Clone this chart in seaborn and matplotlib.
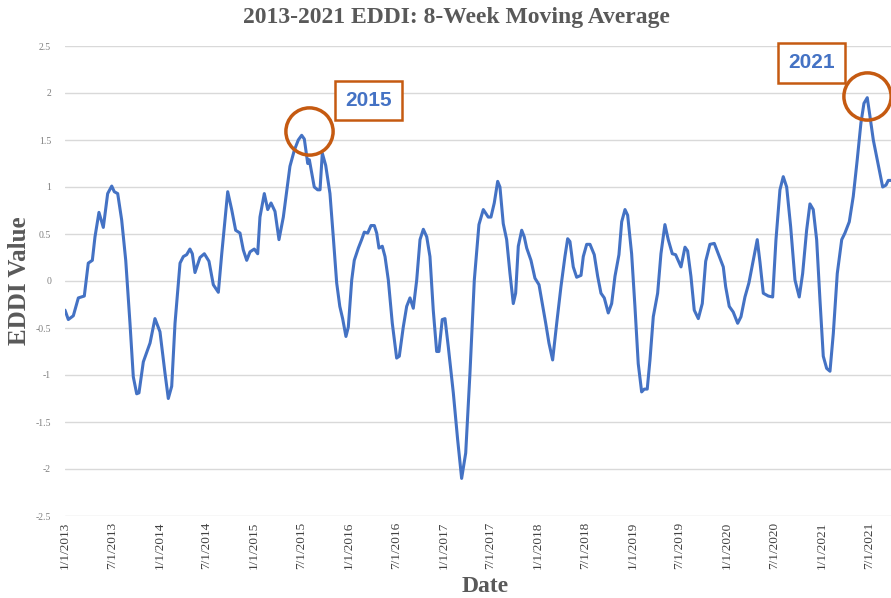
import pandas as pd
import numpy as np
import matplotlib
matplotlib.use("Agg")
import matplotlib.pyplot as plt
import matplotlib.transforms as mtransforms
import seaborn as sns

# Dados: tempo em anos desde 1/1/2013 e valor da média móvel de 8 semanas
anos_desde_2013 = [
    0.000, 0.035, 0.088, 0.141, 0.204, 0.246, 0.289, 0.317, 0.359, 0.405,
    0.451, 0.494, 0.521, 0.557, 0.599, 0.642, 0.687, 0.722, 0.758, 0.782,
    0.828, 0.899, 0.951, 1.004, 1.057, 1.092, 1.128, 1.163, 1.216, 1.251,
    1.286, 1.321, 1.346, 1.374, 1.427, 1.473, 1.522, 1.568, 1.621, 1.657,
    1.720, 1.762, 1.804, 1.850, 1.885, 1.921, 1.956, 2.001, 2.037, 2.061,
    2.107, 2.143, 2.178, 2.220, 2.262, 2.308, 2.378, 2.424, 2.466, 2.502,
    2.530, 2.566, 2.583, 2.608, 2.635, 2.671, 2.696, 2.720, 2.756, 2.801,
    2.836, 2.872, 2.905, 2.935, 2.970, 2.995, 3.031, 3.058, 3.101, 3.136,
    3.164, 3.200, 3.235, 3.270, 3.295, 3.319, 3.354, 3.383, 3.418, 3.460,
    3.506, 3.534, 3.576, 3.612, 3.647, 3.682, 3.718, 3.753, 3.788, 3.824,
    3.858, 3.893, 3.929, 3.953, 3.988, 4.017, 4.052, 4.105, 4.151, 4.193,
    4.236, 4.281, 4.327, 4.376, 4.422, 4.474, 4.503, 4.538, 4.574, 4.598,
    4.633, 4.669, 4.704, 4.739, 4.764, 4.792, 4.828, 4.855, 4.881, 4.926,
    4.968, 5.011, 5.046, 5.082, 5.116, 5.155, 5.198, 5.243, 5.285, 5.314,
    5.338, 5.373, 5.409, 5.455, 5.479, 5.515, 5.550, 5.595, 5.631, 5.666,
    5.701, 5.743, 5.779, 5.814, 5.856, 5.885, 5.920, 5.948, 5.990, 6.025,
    6.060, 6.096, 6.124, 6.155, 6.184, 6.219, 6.265, 6.300, 6.342, 6.377,
    6.420, 6.455, 6.512, 6.554, 6.582, 6.617, 6.652, 6.695, 6.737, 6.773,
    6.818, 6.864, 6.906, 6.959, 6.984, 7.022, 7.064, 7.111, 7.146, 7.188,
    7.230, 7.276, 7.318, 7.347, 7.382, 7.435, 7.481, 7.516, 7.558, 7.593,
    7.629, 7.671, 7.717, 7.762, 7.798, 7.840, 7.875, 7.910, 7.946, 7.981,
    8.016, 8.052, 8.087, 8.122, 8.164, 8.211, 8.245, 8.291, 8.333, 8.375,
    8.414, 8.446, 8.481, 8.510, 8.545, 8.581, 8.615, 8.644, 8.679, 8.703,
    8.732,
]
eddi_8sem = [
    -0.31, -0.41, -0.37, -0.18, -0.16, 0.19, 0.22, 0.47, 0.73, 0.57,
    0.93, 1.01, 0.95, 0.93, 0.65, 0.22, -0.45, -1.02, -1.20, -1.19,
    -0.86, -0.66, -0.40, -0.54, -0.98, -1.25, -1.12, -0.45, 0.19, 0.26,
    0.28, 0.34, 0.29, 0.09, 0.25, 0.29, 0.21, -0.04, -0.12, 0.29,
    0.95, 0.76, 0.54, 0.51, 0.33, 0.22, 0.31, 0.34, 0.29, 0.68,
    0.93, 0.76, 0.83, 0.74, 0.44, 0.68, 1.22, 1.39, 1.50, 1.55,
    1.51, 1.25, 1.29, 1.15, 1.00, 0.97, 0.97, 1.36, 1.23, 0.93,
    0.47, -0.02, -0.27, -0.40, -0.59, -0.49, 0.01, 0.22, 0.35, 0.44,
    0.52, 0.51, 0.59, 0.59, 0.51, 0.35, 0.37, 0.26, 0.01, -0.45,
    -0.82, -0.80, -0.49, -0.27, -0.18, -0.29, 0.01, 0.44, 0.55, 0.47,
    0.26, -0.31, -0.75, -0.75, -0.41, -0.40, -0.70, -1.19, -1.69, -2.10,
    -1.83, -0.98, 0.01, 0.60, 0.76, 0.68, 0.68, 0.83, 1.06, 1.00,
    0.61, 0.44, 0.08, -0.24, -0.13, 0.37, 0.54, 0.47, 0.35, 0.22,
    0.03, -0.04, -0.24, -0.45, -0.66, -0.84, -0.45, -0.06, 0.26, 0.45,
    0.42, 0.15, 0.04, 0.06, 0.26, 0.39, 0.39, 0.28, 0.05, -0.13,
    -0.18, -0.34, -0.24, 0.05, 0.28, 0.63, 0.76, 0.70, 0.29, -0.27,
    -0.88, -1.18, -1.15, -1.15, -0.84, -0.38, -0.13, 0.29, 0.60, 0.44,
    0.29, 0.28, 0.15, 0.36, 0.32, 0.05, -0.31, -0.40, -0.24, 0.21,
    0.39, 0.40, 0.29, 0.15, -0.06, -0.27, -0.33, -0.45, -0.38, -0.17,
    -0.02, 0.22, 0.44, 0.20, -0.13, -0.16, -0.17, 0.44, 0.97, 1.11,
    1.00, 0.58, 0.01, -0.17, 0.08, 0.54, 0.82, 0.76, 0.44, -0.20,
    -0.80, -0.93, -0.96, -0.56, 0.08, 0.44, 0.51, 0.63, 0.90, 1.29,
    1.68, 1.89, 1.95, 1.75, 1.50, 1.32, 1.15, 1.00, 1.02, 1.07,
    1.07,
]
assert len(anos_desde_2013) == len(eddi_8sem)

datas_ticks = ["2013-01-01", "2013-07-01", "2014-01-01", "2014-07-01", "2015-01-01",
               "2015-07-01", "2016-01-01", "2016-07-01", "2017-01-01", "2017-07-01",
               "2018-01-01", "2018-07-01", "2019-01-01", "2019-07-01", "2020-01-01",
               "2020-07-01", "2021-01-01", "2021-07-01"]
y_ticks = [2.5, 2, 1.5, 1, 0.5, 0, -0.5, -1, -1.5, -2, -2.5]
anos_destaque = ["2015", "2021"]

inicio = pd.Timestamp("2013-01-01")
df = pd.DataFrame({
    "Data": inicio + pd.to_timedelta(np.array(anos_desde_2013) * 365.25, unit="D"),
    "EDDI": eddi_8sem,
})

# Estilo
sns.set_style("white")
azul = "#4472C4"
laranja = "#C55A11"
cinza = "#595959"

fig = plt.figure(figsize=(8.91, 5.98), dpi=100)
ax = fig.add_axes([65 / 891, 1 - 516 / 598, 1 - 65 / 891, (516 - 46) / 598])

sns.lineplot(data=df, x="Data", y="EDDI", ax=ax, color=azul, linewidth=2.2)

ax.set_ylim(-2.5, 2.5)
ax.set_xlim(inicio, df["Data"].iloc[-1])
ax.set_yticks(y_ticks)
ax.set_yticklabels([f"{v:g}" for v in y_ticks], fontsize=7, color="#7f7f7f",
                   family="Liberation Serif")
ticks = pd.to_datetime(datas_ticks)
ax.set_xticks(ticks)
ax.set_xticklabels([f"{d.month}/{d.day}/{d.year}" for d in ticks], rotation=90,
                   fontsize=9.5, color="#404040", family="Liberation Serif")
ax.tick_params(axis="x", length=0, pad=4)
ax.tick_params(axis="y", length=0, pad=10)
ax.yaxis.grid(True, color="#d9d9d9", linewidth=1)
ax.set_axisbelow(True)
for s in ax.spines.values():
    s.set_visible(False)
ax.set_xlabel("")
ax.set_ylabel("")

fig.text(456 / 891, 1 - 18 / 598, "2013-2021 EDDI: 8-Week Moving Average",
         ha="center", va="center", fontsize=17, fontweight="bold", color=cinza,
         family="Liberation Serif")
fig.text(20 / 891, 1 - 281 / 598, "EDDI Value", rotation=90, ha="center", va="center",
         fontsize=18, fontweight="bold", color=cinza, family="Liberation Serif")
fig.text(485 / 891, 1 - 587 / 598, "Date", ha="center", va="center",
         fontsize=17, fontweight="bold", color=cinza, family="Liberation Serif")

# Destaques: círculo nos picos e caixa com o ano
t = np.array(anos_desde_2013)
v = np.array(eddi_8sem)
picos = [np.argmax(np.where(t < 3, v, -9)), np.argmax(np.where(t > 8, v, -9))]
desloc_circ = [(7, 4), (0, 2)]
desloc_caixa = [(48, 25), (-40, 25)]
for ano, i, dc, db in zip(anos_destaque, picos, desloc_circ, desloc_caixa):
    tr = mtransforms.offset_copy(ax.transData, fig=fig, x=dc[0], y=dc[1], units="dots")
    ax.plot([df["Data"].iloc[i]], [v[i]], marker="o", markersize=34, markerfacecolor="none",
            markeredgecolor=laranja, markeredgewidth=2.5, transform=tr, clip_on=False)
    ax.annotate(ano, xy=(df["Data"].iloc[i], v[i]), xytext=db, textcoords="offset points",
                ha="center", va="center", fontsize=15, fontweight="bold", color=azul,
                family="Liberation Sans",
                bbox=dict(boxstyle="square,pad=0.5", fc="white", ec=laranja, lw=1.8))

fig.savefig("out.png", dpi=100)
